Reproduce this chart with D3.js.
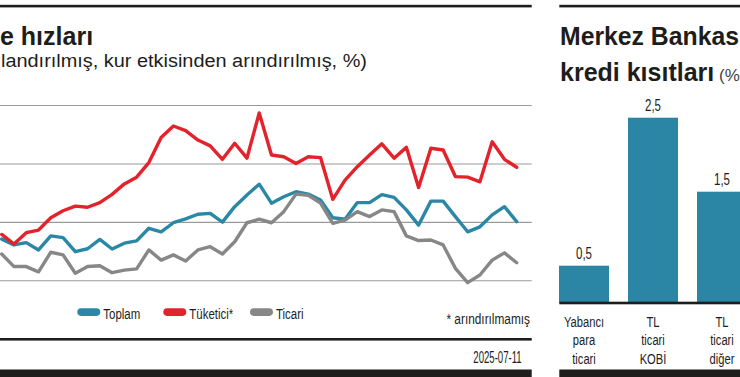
<!DOCTYPE html>
<html><head><meta charset="utf-8">
<script src="https://cdn.jsdelivr.net/npm/d3@7"></script>
<style>html,body{margin:0;padding:0;background:#fff;overflow:hidden}</style>
</head><body><svg id="c" width="740" height="377"></svg>
<script>
// ---- data (left panel: loan growth rates, %) ----
const toplam   = [14.1,12.1,12.9,10.4,15.2,14.6,9.8,10.8,14.0,10.7,12.7,13.5,17.8,16.6,19.7,21.0,22.6,22.9,19.9,25.2,29.2,32.9,26.4,28.6,30.3,29.5,27.5,21.4,20.9,26.6,26.6,29.3,28.4,24.1,18.9,27.1,27.1,21.8,16.6,18.3,22.4,25.2,20.1];
const tuketici = [15.7,12.4,16.3,17.2,21.4,23.8,25.4,25.0,26.6,29.4,33.0,35.3,40.3,48.9,52.8,51.2,48.0,46.0,41.4,46.9,41.8,57.3,42.9,42.3,40.0,42.3,42.0,27.7,34.3,38.9,42.9,46.7,41.8,45.5,31.8,45.2,44.6,35.5,35.3,33.7,47.4,41.4,38.7];
const ticari   = [9.0,4.7,4.7,2.9,9.6,8.7,2.4,4.7,5.0,2.6,3.5,3.9,10.4,6.9,8.7,6.6,10.4,11.5,9.0,13.2,19.7,20.9,19.7,23.5,29.5,29.1,26.4,19.5,20.6,23.5,21.8,24.1,23.5,15.2,13.6,13.8,12.1,4.1,-0.8,1.8,6.9,9.4,6.0];
const gridValues = [0, 20, 40, 60];
const seriesNames = ["Toplam", "Tüketici*", "Ticari"];
const seriesColors = ["#2a88a6", "#e3222b", "#878787"];

// ---- data (right panel: credit limits, %) ----
const barCategories = [["Yabancı","para","ticari"], ["TL","ticari","KOBİ"], ["TL","ticari","diğer"]];
const barValues = [0.5, 2.5, 1.5];
const barLabels = ["0,5", "2,5", "1,5"];

// ---- texts ----
const leftTitle = "e hızları";
const leftSubtitle = "landırılmış, kur etkisinden arındırılmış, %)";
const footNote = "* arındırılmamış";
const dateText = "2025-07-11";
const rightTitle1 = "Merkez Bankas";
const rightTitle2 = "kredi kısıtları";
const rightTitle2b = " (%";

const svg = d3.select("#c");
const INK = "#1d1d1b";
const FONT = "'Liberation Sans', Arial, sans-serif";

function ctext(parent, str, x, y, size, sx, anchor, fill) {
  return parent.append("text")
    .attr("transform", `translate(${x},${y}) scale(${sx},1)`)
    .attr("text-anchor", anchor || "start")
    .style("font-family", FONT).style("font-size", size + "px")
    .attr("fill", fill || INK).text(str);
}

// ================= LEFT PANEL =================
const L = svg.append("g");
L.append("rect").attr("x", 0).attr("y", 4.8).attr("width", 531.7).attr("height", 2.6).attr("fill", INK);
L.append("text").attr("x", 0).attr("y", 45).style("font-family", FONT).style("font-weight", "bold")
  .style("font-size", "25px").attr("fill", INK).text(leftTitle);
L.append("text").attr("x", 1).attr("y", 67).style("font-family", FONT)
  .style("font-size", "18px").attr("fill", INK)
  .attr("textLength", 366).attr("lengthAdjust", "spacingAndGlyphs").text(leftSubtitle);

const x = d3.scaleLinear().domain([0, toplam.length - 1]).range([1.74, 516.7]);
const y = d3.scaleLinear().domain([0, 60]).range([280.3, 105]);

const yAxis = d3.axisLeft(y).tickValues(gridValues).tickSize(-531.7).tickFormat("");
const ga = L.append("g").call(yAxis);
ga.select(".domain").remove();
ga.selectAll(".tick line").attr("stroke", "#9a9a9a").attr("stroke-width", 1.1);

const line = d3.line().x((d, i) => x(i)).y(d => y(d)).curve(d3.curveLinear);
[toplam, tuketici, ticari].forEach((s, k) => {
  L.append("path").datum(s).attr("d", line).attr("fill", "none")
    .attr("stroke", seriesColors[k]).attr("stroke-width", 3.4)
    .attr("stroke-linejoin", "round").attr("stroke-linecap", "round");
});

// legend
const legX = [77.3, 163.3, 250];
seriesNames.forEach((n, k) => {
  L.append("rect").attr("x", legX[k]).attr("y", 308.3).attr("width", 23).attr("height", 7.6)
    .attr("rx", 3.8).attr("fill", seriesColors[k]);
  ctext(L, n, legX[k] + 26, 318.5, 15.5, 0.74, "start");
});
ctext(L, footNote, 530, 324, 15, 0.79, "end");
L.append("rect").attr("x", 0).attr("y", 338).attr("width", 531.7).attr("height", 2.6).attr("fill", INK);
ctext(L, dateText, 521.7, 363.3, 16, 0.6, "end");
L.append("rect").attr("x", 0).attr("y", 369.5).attr("width", 531.7).attr("height", 8).attr("fill", INK);

// ================= RIGHT PANEL =================
const R = svg.append("g");
R.append("rect").attr("x", 559.3).attr("y", 4.8).attr("width", 180.7).attr("height", 2.6).attr("fill", INK);
R.append("text").attr("x", 560).attr("y", 45).style("font-family", FONT).style("font-weight", "bold")
  .style("font-size", "25px").attr("fill", INK)
  .attr("textLength", 179).attr("lengthAdjust", "spacingAndGlyphs").text(rightTitle1);
const t2 = R.append("text").attr("x", 560).attr("y", 80.5).style("font-family", FONT)
  .style("font-size", "25px").attr("fill", INK);
t2.append("tspan").style("font-weight", "bold").text(rightTitle2);
t2.append("tspan").style("font-weight", "normal").style("font-size", "17px").attr("fill", "#444").text(rightTitle2b);

const xb = d3.scaleBand().domain(d3.range(barValues.length)).range([559, 747]).paddingInner(0.2754).paddingOuter(0);
const yb = d3.scaleLinear().domain([0, 2.5]).range([302.7, 117.7]);

R.selectAll("rect.bar").data(barValues).enter().append("rect").attr("class", "bar")
  .attr("x", (d, i) => xb(i)).attr("width", xb.bandwidth())
  .attr("y", d => yb(d)).attr("height", d => yb(0) - yb(d)).attr("fill", "#2a86a4");

barValues.forEach((v, i) => {
  ctext(R, barLabels[i], xb(i) + xb.bandwidth() / 2, yb(v) - 7, 16, 0.72, "middle");
  barCategories[i].forEach((s, j) => {
    ctext(R, s, xb(i) + xb.bandwidth() / 2, 326.5 + j * 18.5, 15.5, 0.72, "middle");
  });
});
R.append("rect").attr("x", 559.3).attr("y", 301.7).attr("width", 180.7).attr("height", 2.6).attr("fill", INK);
R.append("rect").attr("x", 559.3).attr("y", 369.5).attr("width", 180.7).attr("height", 8).attr("fill", INK);
</script>
</body></html>
